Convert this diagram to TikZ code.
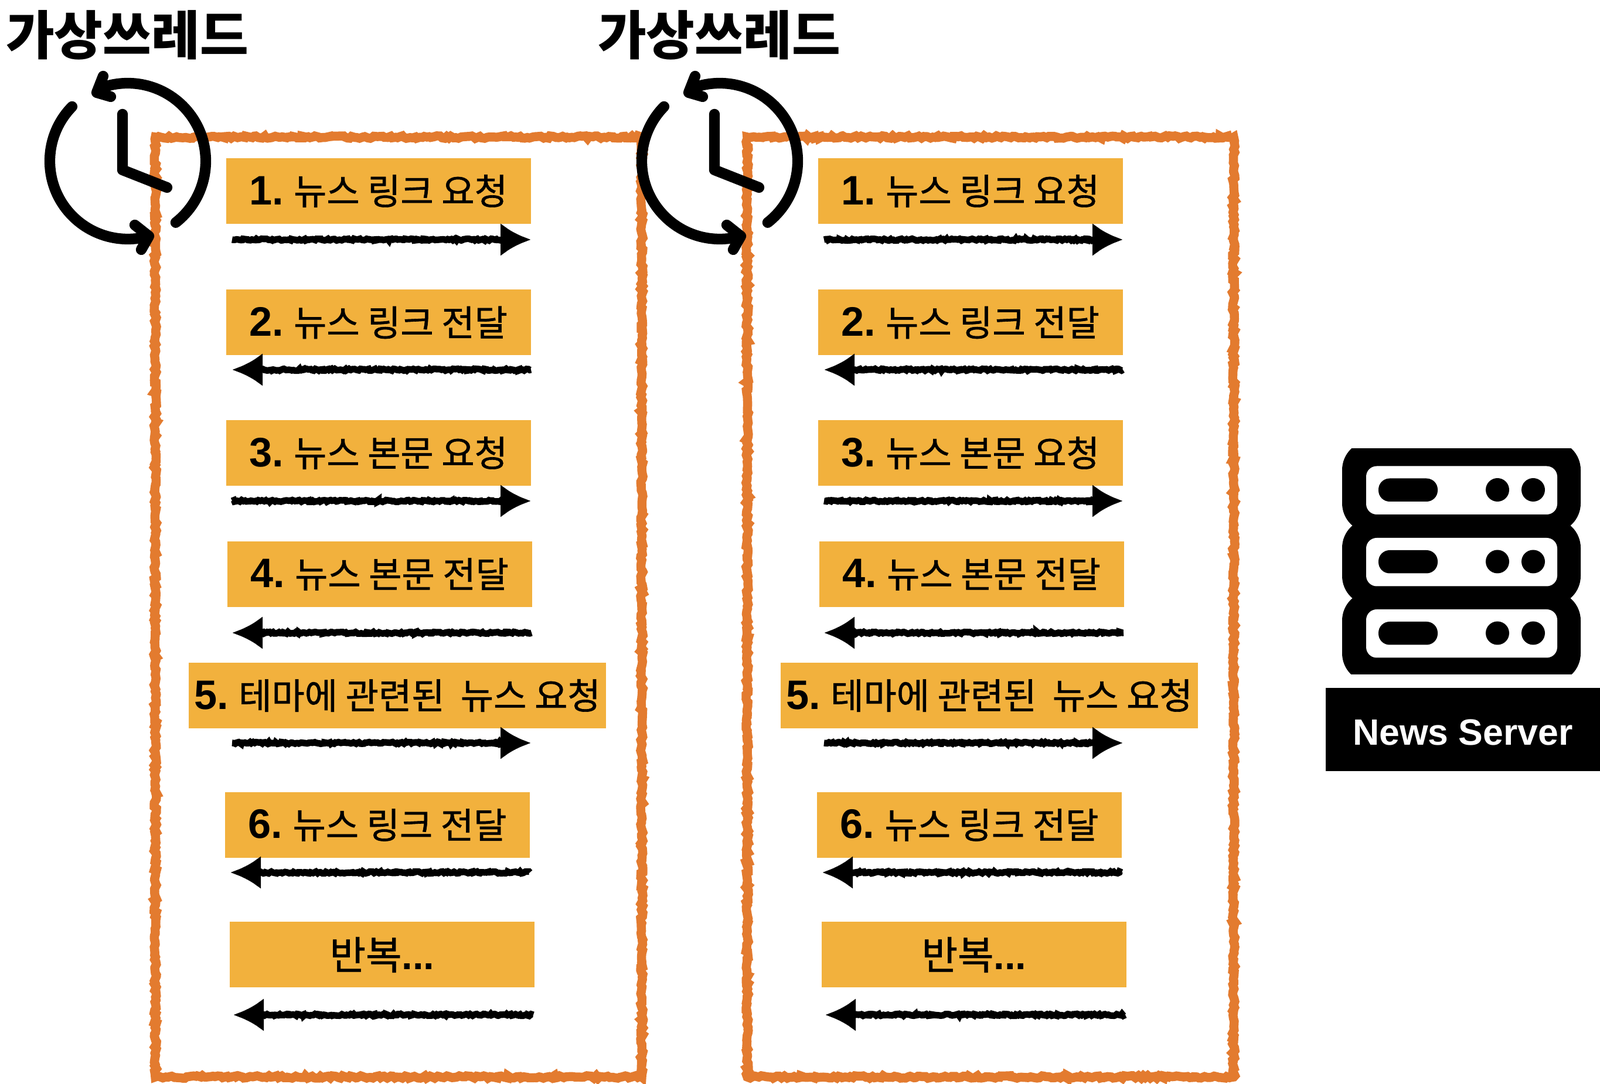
\documentclass[tikz,border=0pt]{standalone}
\usepackage{fontspec}
\setmainfont{Liberation Sans}
\newfontfamily\korfont[FakeBold=1]{Noto Sans CJK KR}
\newfontfamily\kortitle{Noto Sans CJK KR}
\usetikzlibrary{arrows.meta, positioning, calc, decorations.pathmorphing}
\definecolor{boxgold}{RGB}{242, 177, 61}
\definecolor{frameorange}{RGB}{227, 123, 47}
\newcommand{\kr}[1]{{\korfont #1}}
\newcommand{\num}[1]{{\fontsize{20}{20}\selectfont\bfseries #1}\hspace{-1.5pt}}
\tikzset{
  newsbox/.style={fill=boxgold, minimum width=5.2cm, minimum height=1.12cm, inner sep=0pt, font=\fontsize{17.4}{20}\selectfont},
  widebox/.style={newsbox, minimum width=7.12cm},
  roughframe/.style={frameorange, line width=4.4pt, decorate, decoration={random steps, segment length=1.2pt, amplitude=0.6pt}},
  roughline/.style={black, line width=3.2pt, decorate, decoration={random steps, segment length=0.8pt, amplitude=0.45pt, post=lineto, post length=14pt}},
  sendarrow/.style={roughline, -{Latex[length=0.52cm, width=0.57cm]}},
  clockline/.style={black, line width=5.2pt, line cap=round, line join=round},
  titletext/.style={font=\fontsize{25.6}{28}\selectfont\kortitle\bfseries}
}

\begin{document}
\begin{tikzpicture}
\useasboundingbox (0,0) rectangle (27.3,18.5);

\foreach \col/\dx in {L/0, R/10.1} {
  \begin{scope}[xshift=\dx cm]
    % Thread frame
    \draw[roughframe] (2.65,16.16) rectangle (10.95,0.12);

    % Requests
    \node[newsbox] (box1\col) at (6.455,15.24) {\num{1.} \kr{뉴스 링크 요청}};
    \node[newsbox] (box2\col) at (6.455,12.995) {\num{2.} \kr{뉴스 링크 전달}};
    \node[newsbox] (box3\col) at (6.455,10.77) {\num{3.} \kr{뉴스 본문 요청}};
    \node[newsbox] (box4\col) at (6.475,8.70) {\num{4.} \kr{뉴스 본문 전달}};
    \node[widebox] (box5\col) at (6.78,6.63) {\num{5.} \kr{테마에 관련된 ~뉴스 요청}};
    \node[newsbox] (box6\col) at (6.44,4.42) {\num{6.} \kr{뉴스 링크 전달}};
    \node[newsbox, font=\fontsize{19}{20}\selectfont] (box7\col) at (6.52,2.205) {\kr{반복}\textbf{...}};

    % Arrows
    \foreach \n/\xa/\xb/\yy in {1/3.96/9.06/14.41, 2/9.06/3.96/12.19, 3/3.96/9.06/9.95, 4/9.07/3.96/7.70, 5/3.96/9.06/5.82, 6/9.04/3.93/3.61, 7/9.10/3.98/1.18} {
      \coordinate (from\n\col) at (\xa,\yy);
      \coordinate (to\n\col) at (\xb,\yy);
      \draw[sendarrow] (from\n\col) -- (to\n\col);
    }

    % Clock
    \draw[clockline] (2.18,15.75) ++(-52:1.33) arc (-52:112:1.33);
    \draw[clockline] (1.76,17.2) -- (1.65,16.92) -- (1.89,16.85);
    \draw[clockline] (2.18,15.75) ++(135.6:1.33) arc (135.6:285:1.33);
    \draw[clockline] (2.30,14.66) -- (2.54,14.47) -- (2.41,14.24);
    \draw[clockline] (2.09,16.55) -- (2.09,15.6) -- (2.85,15.3);

    \node[titletext] (title\col) at (2.17,17.9) {가상쓰레드};
  \end{scope}
}

% News server
\begin{scope}
  \clip (22.8,10.84) rectangle (27.1,6.995);
  \fill[black, rounded corners=0.5cm] (22.90,10.98) rectangle (26.97,9.41);
  \fill[black, rounded corners=0.5cm] (22.90,9.65) rectangle (26.97,8.17);
  \fill[black, rounded corners=0.5cm] (22.90,8.41) rectangle (26.97,6.85);
\end{scope}
\foreach \yy in {0, -1.225, -2.445} {
  \begin{scope}[yshift=\yy cm]
    \fill[white, rounded corners=0.18cm] (23.31,10.545) rectangle (26.57,9.72);
    \fill[black, rounded corners=0.19cm] (23.52,10.335) rectangle (24.53,9.94);
    \fill[black] (25.55,10.14) circle (0.2);
    \fill[black] (26.16,10.14) circle (0.2);
  \end{scope}
}
\node[fill=black, text=white, minimum width=4.68cm, minimum height=1.42cm, inner sep=0pt, font=\fontsize{17.8}{20}\selectfont\bfseries] (server) at (24.96,6.05) {\raisebox{-7.4pt}[0pt][0pt]{News Server}};
\end{tikzpicture}
\end{document}
